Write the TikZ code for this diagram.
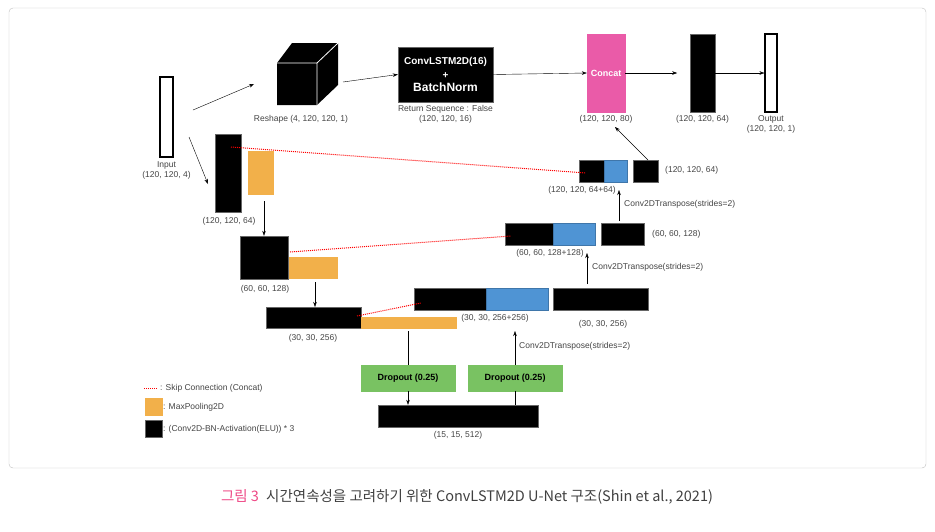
\documentclass[tikz,border=0pt]{standalone}
\usepackage{fontspec}
\setmainfont{Liberation Sans}
\newfontfamily\kofont{Noto Sans CJK KR}
\usetikzlibrary{arrows.meta, positioning}
\definecolor{poolC}{HTML}{F2B04A}
\definecolor{catC}{HTML}{4F94D4}
\definecolor{dropC}{HTML}{79C262}
\definecolor{pinkC}{HTML}{EA5BA8}
\definecolor{txtC}{HTML}{444444}
\tikzset{
  blk/.style={rectangle, fill=black, draw=black!60, inner sep=0pt},
  pool/.style={blk, fill=poolC, draw=poolC},
  cat/.style={blk, fill=catC, draw=catC!80!black},
  drop/.style={blk, fill=dropC, draw=dropC, font=\bfseries\fontsize{9}{10}\selectfont},
  hollow/.style={rectangle, draw=black, line width=1.1pt, fill=white, inner sep=0pt},
  lbl/.style={font=\fontsize{8.5}{10}\selectfont, text=txtC, align=center, inner sep=1pt},
  arrow/.style={-{Stealth[length=5pt,width=3.5pt]}, thin, draw=black},
  skip/.style={red, densely dotted, line width=1pt},
}
\begin{document}
\begin{tikzpicture}[x=1pt, y=-1pt]
  \useasboundingbox (0,0) rectangle (935,531);
  \draw[black!25, rounded corners=4pt] (9,8) rectangle (926,468);

  % top path
  \node[hollow, minimum width=13, minimum height=80] at (166.5,117) (input) {};
  \node[lbl, below=3pt of input] (inputL) {Input\\(120, 120, 4)};

  \fill (277,63) -- (292,43) -- (338,43) -- (338,85) -- (317,105) -- (277,105) -- cycle;
  \draw[white, line width=0.8pt] (277,63) -- (317,63) -- (338,43) (317,63) -- (317,105);
  \coordinate (cubeL) at (254,84);
  \coordinate (cubeR) at (343,82);
  \node[lbl] at (301,119) (cubeT) {Reshape (4, 120, 120, 1)};

  \node[blk, minimum width=95, minimum height=55, text=white, align=center,
        font=\bfseries\fontsize{10}{14}\selectfont] at (445.5,74.5) (lstm)
        {ConvLSTM2D(16)\\+\\[-1pt]{\fontsize{12}{13}\selectfont BatchNorm}};
  \node[lbl, below=2pt of lstm] (lstmL) {Return Sequence : False\\(120, 120, 16)};

  \node[blk, fill=pinkC, draw=pinkC, minimum width=38, minimum height=78, text=white,
        font=\bfseries\fontsize{9}{10}\selectfont] at (606,73) (concat) {Concat};
  \node[lbl, below=2pt of concat] (concatL) {(120, 120, 80)};
  \node[blk, minimum width=25, minimum height=78] at (702.5,73) (top64) {};
  \node[lbl, below=2pt of top64] (top64L) {(120, 120, 64)};
  \node[hollow, minimum width=12, minimum height=78] at (771,73) (output) {};
  \node[lbl, below=2pt of output] (outputL) {Output\\(120, 120, 1)};

  \coordinate (inA) at (193,110);
  \coordinate (inB) at (189,137);
  \draw[arrow] (inA) -- (cubeL);
  \draw[arrow] (cubeR) -- (lstm.west);
  \draw[arrow] (lstm.east) -- (concat.west);
  \draw[arrow] (concat.east) -- ++(52,0);
  \draw[arrow] (top64.east) -- (output.west);

  % encoder
  \node[blk, minimum width=26, minimum height=78] at (228,173) (enc1) {};
  \node[pool, minimum width=25, minimum height=43] at (260.5,172.5) (pool1) {};
  \node[lbl] at (229,221) (enc1L) {(120, 120, 64)};
  \node[blk, minimum width=48, minimum height=43] at (264,257.5) (enc2) {};
  \node[pool, minimum width=48, minimum height=21] at (313,267.5) (pool2) {};
  \node[lbl] at (265,289) (enc2L) {(60, 60, 128)};
  \node[blk, minimum width=95, minimum height=21] at (313.5,317.5) (enc3) {};
  \node[pool, minimum width=95, minimum height=11] at (408.5,322.5) (pool3) {};
  \node[lbl] at (313,338) (enc3L) {(30, 30, 256)};

  \draw[arrow] (inB) -- (208,184);
  \draw[arrow] (264,201) -- (enc2.north);
  \draw[arrow] (315,282) -- (315,307);

  % bottleneck
  \node[drop, minimum width=94, minimum height=26] at (408,378) (drop1) {Dropout (0.25)};
  \node[drop, minimum width=94, minimum height=26] at (515,378) (drop2) {Dropout (0.25)};
  \node[blk, minimum width=160, minimum height=22] at (458,416) (bottom) {};
  \node[lbl, below=3pt of bottom] (bottomL) {(15, 15, 512)};
  \draw (408,331) -- (drop1.north);
  \draw[arrow] (drop1.south) -- (bottom.north -| drop1.south);
  \draw (bottom.north -| drop2.south) -- (drop2.south);

  % decoder
  \node[blk, minimum width=72, minimum height=22] at (450,299) (dec3a) {};
  \node[cat, minimum width=62, minimum height=22] at (517,299) (dec3b) {};
  \node[blk, minimum width=95, minimum height=22] at (600.5,299) (dec3c) {};
  \node[lbl] at (495,318) (dec3L) {(30, 30, 256+256)};
  \node[lbl] at (603,324) (dec3cL) {(30, 30, 256)};
  \node[blk, minimum width=48, minimum height=22] at (529,234) (dec2a) {};
  \node[cat, minimum width=42, minimum height=22] at (574,234) (dec2b) {};
  \node[blk, minimum width=43, minimum height=22] at (622.5,234) (dec2c) {};
  \node[lbl] at (550,253) (dec2L) {(60, 60, 128+128)};
  \node[lbl, anchor=west] at (651,234) (dec2cL) {(60, 60, 128)};
  \node[blk, minimum width=25, minimum height=22] at (591.5,171) (dec1a) {};
  \node[cat, minimum width=23, minimum height=22] at (615.5,171) (dec1b) {};
  \node[blk, minimum width=25, minimum height=22] at (645.5,171) (dec1c) {};
  \node[lbl] at (582,190) (dec1L) {(120, 120, 64+64)};
  \node[lbl, anchor=west] at (664,170) (dec1cL) {(120, 120, 64)};

  \draw[arrow] (drop2.north) -- (515,331);
  \node[lbl, anchor=west] at (518,346) (up3) {Conv2DTranspose(strides=2)};
  \draw[arrow] (587,284) -- (587,253);
  \node[lbl, anchor=west] at (591,267) (up2) {Conv2DTranspose(strides=2)};
  \draw[arrow] (619,221) -- (619,190);
  \node[lbl, anchor=west] at (623,204) (up1) {Conv2DTranspose(strides=2)};
  \draw[arrow] (648,160) -- (615,127);

  % skip connections
  \draw[skip] (231,147) -- (586,173);
  \draw[skip] (290,252) -- (511,236);
  \draw[skip] (357,316) -- (421,303);

  % legend
  \draw[skip] (144,388) -- (158,388);
  \node[lbl, anchor=west] at (159,388) (legSkip) {: Skip Connection (Concat)};
  \node[pool, minimum width=17, minimum height=17] at (153.5,407) (legPool) {};
  \node[lbl, anchor=west] at (162,407) (legPoolL) {: MaxPooling2D};
  \node[blk, minimum width=17, minimum height=17] at (153.5,429) (legBlk) {};
  \node[lbl, anchor=west] at (162,429) (legBlkL) {: (Conv2D-BN-Activation(ELU)) * 3};

  % caption
  \node[font=\kofont\fontsize{14.5}{16}\selectfont, text=black!75, anchor=center] at (467,497) (caption)
    {\textcolor{pinkC!80!red}{그림 3}\enspace 시간연속성을 고려하기 위한 ConvLSTM2D U-Net 구조(Shin et al., 2021)};
\end{tikzpicture}
\end{document}
